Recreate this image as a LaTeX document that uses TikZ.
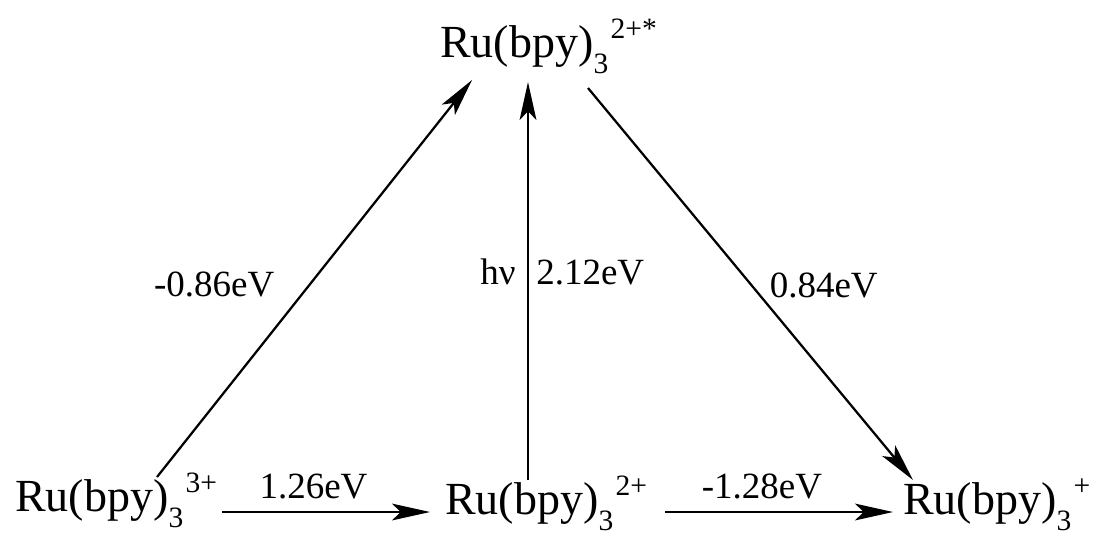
\documentclass[tikz,border=0pt]{standalone}
\usepackage{fontspec}
\setmainfont{Liberation Serif}
\usetikzlibrary{arrows.meta,calc}
\newcommand{\rubpy}[1]{Ru(bpy)\raisebox{-0.35em}{\fontsize{21}{21}\selectfont 3}\kern0.05em\raisebox{0.4em}{\fontsize{21}{21}\selectfont #1}}
\tikzset{
	cmpd/.style={inner sep=0pt, anchor=base west, font=\fontsize{32.7}{39}\selectfont},
	lbl/.style={inner sep=0pt, font=\fontsize{26.3}{32}\selectfont},
	arr/.style={line width=1.6pt, -{Stealth[length=0.95cm,width=0.42cm,inset=0.22cm]}}
}
\begin{document}
\begin{tikzpicture}[x=0.025cm, y=-0.025cm]
	\useasboundingbox (0,0) rectangle (1100,535);
	\node[cmpd] (ruex) at (440,57) {\rubpy{2+*}};
	\node[cmpd] (ru3) at (15,511) {\rubpy{3+}};
	\node[cmpd] (ru2) at (445,514) {\rubpy{2+}};
	\node[cmpd] (ru1) at (903,514) {\rubpy{+}};
	\draw[arr] ($(ru3.base west)+(142,-34)$) -- node[lbl, pos=0.484, left=0.85cm] {-0.86eV} ($(ruex.base west)+(32,23)$);
	\draw[arr] ($(ru2.base west)+(83,-34)$) -- node[lbl, pos=0.49, anchor=base east, xshift=-0.28cm] {hν} node[lbl, pos=0.49, anchor=base west, xshift=0.18cm] {2.12eV} ($(ruex.base west)+(88,25)$);
	\draw[arr] ($(ruex.base west)+(148,31)$) -- node[lbl, pos=0.503, right=0.43cm] {0.84eV} ($(ru1.base west)+(10,-34)$);
	\draw[arr] ($(ru3.base west)+(207,1)$) -- node[lbl, pos=0.44, anchor=base, yshift=0.35cm] {1.26eV} ($(ru2.base west)+(-15,-2)$);
	\draw[arr] ($(ru2.base west)+(220,-2)$) -- node[lbl, pos=0.425, anchor=base, yshift=0.35cm] {-1.28eV} ($(ru1.base west)+(-10,-2)$);
\end{tikzpicture}
\end{document}
